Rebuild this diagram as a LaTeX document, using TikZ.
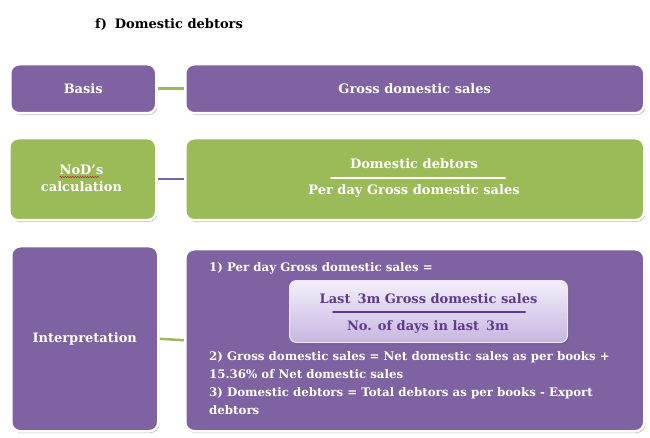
\documentclass[tikz,border=0pt]{standalone}
\usepackage{fontspec}
\setmainfont{DejaVu Serif}
\usetikzlibrary{shadows,backgrounds,decorations.pathmorphing}

\definecolor{cardpurple}{HTML}{7F62A2}
\definecolor{cardgreen}{HTML}{9BBB59}
\definecolor{fracink}{HTML}{5E3B8E}
\definecolor{lilactop}{HTML}{F3EEFA}
\definecolor{lilacbot}{HTML}{C7B7E0}
\definecolor{spellred}{HTML}{D0202A}

\tikzset{
  card/.style={draw=white, line width=2.5pt, rounded corners=9pt,
    anchor=north west, inner sep=0pt, text=white,
    drop shadow={shadow xshift=1.2pt, shadow yshift=-1.8pt,
      opacity=0.35, fill=black!70}},
  purplecard/.style={card, fill=cardpurple},
  greencard/.style={card, fill=cardgreen},
  link/.style={line width=2.5pt},
  label/.style={font=\bfseries\fontsize{13}{15}\selectfont, text=white, inner sep=0pt},
  listtext/.style={font=\bfseries\fontsize{11.8}{14}\selectfont, text=white,
    inner sep=0pt, anchor=west},
  fracline/.style={line width=2pt, line cap=round},
}

\begin{document}
\begin{tikzpicture}[x=1pt, y=-1pt]
\useasboundingbox (0,0) rectangle (650,438);

% heading
\node[font=\bfseries\fontsize{13}{15}\selectfont, anchor=west, inner sep=0pt]
  (title) at (95,25) {f)\hspace{8pt}Domestic debtors};

% row 1: basis
\node[purplecard, minimum width=146pt, minimum height=49pt] (basis) at (9,63) {};
\node[label] (basistxt) at (basis.center) {Basis};
\node[purplecard, minimum width=459pt, minimum height=49pt] (gross) at (184,63) {};
\node[label] (grosstxt) at (gross.center) {Gross domestic sales};

% row 2: calculation
\node[greencard, minimum width=147pt, minimum height=82pt] (nod) at (8,137) {};
\node[label] (nodtxt) at (81.5,170) {NoD’s};
\node[label] (calctxt) at (81.5,187) {calculation};
\draw[spellred, line width=0.5pt, decorate,
  decoration={snake, amplitude=0.7pt, segment length=2.5pt}]
  (nodtxt.south west) ++(0,2) coordinate (wavyA) -- ++(40,0) coordinate (wavyB);
\node[greencard, minimum width=459pt, minimum height=82pt] (calc) at (184,137) {};
\node[label] (numtxt) at (414,164) {Domestic debtors};
\coordinate (fracAL) at (331,178);
\coordinate (fracAR) at (505,178);
\draw[fracline, white] (fracAL) -- (fracAR);
\node[label] (dentxt) at (414,191) {Per day Gross domestic sales};

% row 3: interpretation
\node[purplecard, minimum width=147pt, minimum height=185pt] (interp) at (10,245) {};
\node[label] (interptxt) at (interp.center) {Interpretation};
\node[purplecard, minimum width=459pt, minimum height=182pt] (detail) at (184,248) {};
\node[listtext] (item1) at (209,268) {1) Per day Gross domestic sales =};

\node[draw=white!85!cardpurple, line width=1pt, rounded corners=7pt, anchor=north west,
  minimum width=278pt, minimum height=62pt, inner sep=0pt,
  top color=lilactop, bottom color=lilacbot,
  drop shadow={shadow xshift=1pt, shadow yshift=-1.5pt, opacity=0.4, fill=black!70}]
  (frac) at (289,280) {};
\node[label, text=fracink] (fracnum) at (428.5,299) {Last\hspace{7pt}3m Gross domestic sales};
\coordinate (fracBL) at (333,312);
\coordinate (fracBR) at (525,312);
\draw[fracline, fracink] (fracBL) -- (fracBR);
\node[label, text=fracink] (fracden) at (428,327) {No. of days in last\hspace{7pt}3m};

\node[listtext] (item2a) at (209,357) {2) Gross domestic sales = Net domestic sales as per books +};
\node[listtext] (item2b) at (209,374) {15.36\% of Net domestic sales};
\node[listtext] (item3a) at (209,393) {3) Domestic debtors = Total debtors as per books - Export};
\node[listtext] (item3b) at (209,410) {debtors};

% connectors behind the cards
\begin{pgfonlayer}{background}
  \draw[link, cardgreen] (basis.east) -- (gross.west);
  \draw[link, cardpurple] (nod.east) -- (calc.west);
  \draw[link, cardgreen] (interp.east) -- (detail.west);
\end{pgfonlayer}
\end{tikzpicture}
\end{document}
